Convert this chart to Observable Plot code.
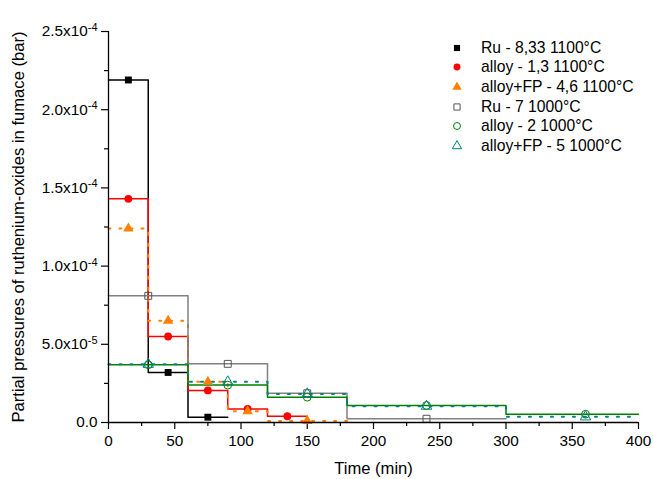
<!DOCTYPE html>
<html><head><meta charset="utf-8">
<script src="https://cdn.jsdelivr.net/npm/d3@7"></script>
<script src="https://cdn.jsdelivr.net/npm/@observablehq/plot@0.6"></script>
<style>
body{margin:0;background:#fff;}
#wrap{position:relative;width:653px;height:479px;font-family:"Liberation Sans",Arial,sans-serif;}
#legend{position:absolute;left:449px;top:38px;font-size:15.7px;color:#000;}
.row{display:flex;align-items:center;height:19.6px;white-space:nowrap;}
.row svg{width:16px;height:16px;margin-right:16px;flex:none;}
</style></head><body><div id="wrap"><div id="legend"></div></div>
<script>
// ---- data ----
const seriesNames = ["Ru - 8,33 1100°C", "alloy - 1,3 1100°C", "alloy+FP - 4,6 1100°C", "Ru - 7 1000°C", "alloy - 2 1000°C", "alloy+FP - 5 1000°C"];
// step edges (min) and step values (bar)
const ru833Edges = [0, 30, 60, 90];
const ru833Vals = [2.19e-4, 3.2e-5, 3.4e-6];
const ru833MarkT = [15, 45, 75];
const alloy13Edges = [0, 30, 60, 90, 120, 150];
const alloy13Vals = [1.43e-4, 5.5e-5, 2.05e-5, 8.7e-6, 4.0e-6];
const alloy13MarkT = [15, 45, 75, 105, 135];
const alloyFP46Edges = [0, 30, 60, 90, 120, 180];
const alloyFP46Vals = [1.24e-4, 6.5e-5, 2.6e-5, 7.2e-6, 1.0e-6];
const alloyFP46MarkT = [15, 45, 75, 105, 150];
const ru7Edges = [0, 60, 120, 180, 300];
const ru7Vals = [8.1e-5, 3.75e-5, 1.87e-5, 2.4e-6];
const ru7MarkT = [30, 90, 150, 240];
const alloy2Edges = [0, 60, 120, 180, 300, 400];
const alloy2Vals = [3.69e-5, 2.39e-5, 1.62e-5, 1.09e-5, 5.3e-6];
const alloy2MarkT = [30, 90, 150, 240, 360];
const alloyFP5Edges = [0, 60, 120, 180, 300, 400];
const alloyFP5Vals = [3.72e-5, 2.6e-5, 1.83e-5, 1.04e-5, 3.6e-6];
const alloyFP5MarkT = [30, 90, 150, 240, 360];

const xDomain = [0, 400];
const yDomain = [0, 2.5e-4];
const xTicks = [0, 50, 100, 150, 200, 250, 300, 350, 400];
const xMinorTicks = [25, 75, 125, 175, 225, 275, 325, 375];
const yTicks = [0, 5e-5, 1e-4, 1.5e-4, 2e-4, 2.5e-4];
const yTickLabels = ["0.0", "5.0x10^-5", "1.0x10^-4", "1.5x10^-4", "2.0x10^-4", "2.5x10^-4"];
const yMinorTicks = [2.5e-5, 7.5e-5, 1.25e-4, 1.75e-4, 2.25e-4];
const xTitle = "Time (min)";
const yTitle = "Partial pressures of ruthenium-oxides in fumace (bar)";

// ---- styles ----
const styles = [
  {color: "#000000", symbol: "square", filled: true, dash: null},
  {color: "#ff0000", symbol: "circle", filled: true, dash: null},
  {color: "#ff8000", symbol: "triangle", filled: true, dash: "2,9"},
  {color: "#808080", symbol: "square", filled: false, dash: null, markerColor: "#555555"},
  {color: "#008000", symbol: "circle", filled: false, dash: null},
  {color: "#008080", symbol: "triangle", filled: false, dash: "2,9"}
];
const edgesList = [ru833Edges, alloy13Edges, alloyFP46Edges, ru7Edges, alloy2Edges, alloyFP5Edges];
const valsList = [ru833Vals, alloy13Vals, alloyFP46Vals, ru7Vals, alloy2Vals, alloyFP5Vals];
const markTList = [ru833MarkT, alloy13MarkT, alloyFP46MarkT, ru7MarkT, alloy2MarkT, alloyFP5MarkT];

const steps = edgesList.map((edges, s) => edges.map((t, i) => ({t, v: valsList[s][Math.min(i, valsList[s].length - 1)]})));
const markers = valsList.map((vals, s) => vals.map((v, i) => ({t: markTList[s][i], v})));

const lineMarks = steps.map((d, s) => Plot.line(d, {
  x: "t", y: "v", curve: "step-after", stroke: styles[s].color,
  strokeWidth: styles[s].dash ? 2 : 1.5,
  strokeDasharray: styles[s].dash || undefined
}));
const dotMarks = markers.map((d, s) => {
  const st = styles[s];
  const c = st.markerColor || st.color;
  return Plot.dot(d, st.filled
    ? {x: "t", y: "v", symbol: st.symbol, r: 3.9, fill: c, stroke: "none"}
    : {x: "t", y: "v", symbol: st.symbol, r: 3.9, fill: "none", stroke: c, strokeWidth: 1});
});

const plot = Plot.plot({
  width: 653, height: 479,
  marginLeft: 108, marginRight: 15, marginTop: 31, marginBottom: 57,
  style: {fontFamily: "'Liberation Sans', Arial, sans-serif", fontSize: "15px", background: "#fff", color: "#000"},
  x: {domain: xDomain},
  y: {domain: yDomain},
  marks: [
    Plot.axisX({ticks: xMinorTicks, tickSize: 4, tickFormat: () => "", label: null, strokeWidth: 1.2}),
    Plot.axisX({ticks: xTicks, tickSize: 7, tickPadding: 6, fontSize: 15.3, label: null, tickFormat: d => String(d), strokeWidth: 1.2}),
    Plot.axisY({ticks: yMinorTicks, tickSize: 4, tickFormat: () => "", label: null, strokeWidth: 1.2}),
    Plot.axisY({ticks: yTicks, tickSize: 7, tickPadding: 4, fontSize: 15.3, label: null, tickFormat: d => yTickLabels[yTicks.indexOf(d)], strokeWidth: 1.2}),
    ...lineMarks,
    ...dotMarks,
    Plot.ruleX([xDomain[0]], {strokeWidth: 1.3}),
    Plot.ruleY([yDomain[0]], {strokeWidth: 1.3}),
    Plot.text([xTitle], {text: d => d, frameAnchor: "bottom", dy: 46, textAnchor: "middle", lineAnchor: "middle", fontSize: 16.6}),
    Plot.text([yTitle], {text: d => d, frameAnchor: "left", dx: -90, rotate: -90, textAnchor: "middle", lineAnchor: "middle", fontSize: 16.6})
  ]
});

// superscripts in y tick labels
plot.querySelectorAll('[aria-label="y-axis tick label"] text').forEach(t => {
  const s = t.textContent;
  if (s.includes("^")) {
    const [base, exp] = s.split("^");
    t.textContent = base;
    const ts = document.createElementNS("http://www.w3.org/2000/svg", "tspan");
    ts.setAttribute("dy", "-0.5em");
    ts.setAttribute("font-size", "11px");
    ts.textContent = exp;
    t.appendChild(ts);
  }
});

const wrap = document.getElementById("wrap");
wrap.insertBefore(plot, wrap.firstChild);

// legend
const legend = document.getElementById("legend");
const symMap = {square: d3.symbolSquare, circle: d3.symbolCircle, triangle: d3.symbolTriangle};
seriesNames.forEach((name, s) => {
  const st = styles[s];
  const c = st.markerColor || st.color;
  const row = document.createElement("div");
  row.className = "row";
  const path = d3.symbol(symMap[st.symbol], 38)();
  row.innerHTML = `<svg viewBox="-8 -8 16 16"><path d="${path}" fill="${st.filled ? c : "none"}" stroke="${st.filled ? "none" : c}" stroke-width="1"/></svg><span>${name}</span>`;
  legend.appendChild(row);
});
</script>
</body></html>
